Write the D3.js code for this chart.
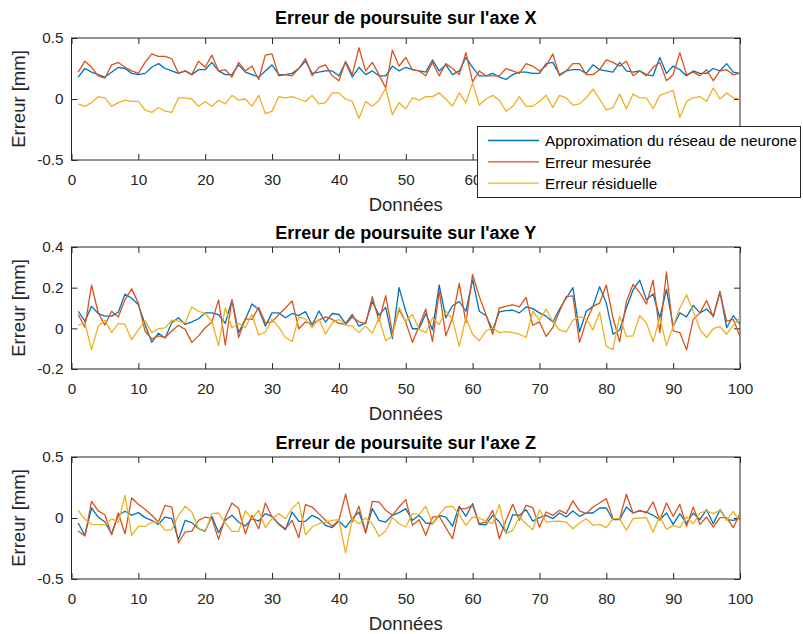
<!DOCTYPE html>
<html>
<head>
<meta charset="utf-8">
<script src="https://cdn.jsdelivr.net/npm/d3@7"></script>
<style>
    body { margin: 0; background: #ffffff; }
    svg { display: block; font-family: "Liberation Sans", Arial, Helvetica, sans-serif; }
</style>
</head>
<body>
<svg id="chart" width="803" height="634"></svg>
<script>
/*global d3*/

var seriesNames = ["Approximation du réseau de neurone", "Erreur mesurée", "Erreur résiduelle"],
    seriesColors = ["#0072bd", "#d95319", "#edb120"],
    xTicks = [0, 10, 20, 30, 40, 50, 60, 70, 80, 90, 100],
    yTicksXZ = [-0.5, 0, 0.5],
    yTicksY = [-0.2, 0, 0.2, 0.4];

//axe X, samples 1..100
var approxX = [0.18, 0.25, 0.22, 0.20, 0.18, 0.22, 0.26, 0.25, 0.21, 0.20, 0.21, 0.26, 0.29, 0.25, 0.23, 0.21, 0.23, 0.20, 0.24, 0.24,
    0.30, 0.23, 0.20, 0.20, 0.28, 0.22, 0.20, 0.18, 0.23, 0.28, 0.20, 0.20, 0.21, 0.25, 0.31, 0.21, 0.22, 0.23, 0.23, 0.19,
    0.30, 0.18, 0.26, 0.20, 0.23, 0.19, 0.19, 0.27, 0.23, 0.26, 0.24, 0.23, 0.22, 0.32, 0.23, 0.28, 0.20, 0.23, 0.34, 0.26,
    0.19, 0.19, 0.21, 0.18, 0.16, 0.20, 0.22, 0.22, 0.21, 0.21, 0.29, 0.30, 0.20, 0.23, 0.24, 0.24, 0.21, 0.28, 0.24, 0.23,
    0.22, 0.30, 0.23, 0.22, 0.23, 0.20, 0.19, 0.34, 0.21, 0.27, 0.24, 0.19, 0.23, 0.21, 0.21, 0.25, 0.23, 0.29, 0.22, 0.21];
var measX = [0.22, 0.31, 0.26, 0.19, 0.17, 0.28, 0.30, 0.26, 0.23, 0.21, 0.30, 0.37, 0.35, 0.35, 0.33, 0.21, 0.23, 0.20, 0.31, 0.26,
    0.36, 0.23, 0.24, 0.18, 0.30, 0.23, 0.27, 0.16, 0.36, 0.37, 0.19, 0.20, 0.19, 0.25, 0.33, 0.19, 0.26, 0.28, 0.19, 0.15,
    0.31, 0.20, 0.42, 0.23, 0.30, 0.20, 0.09, 0.40, 0.27, 0.34, 0.24, 0.23, 0.19, 0.30, 0.19, 0.29, 0.25, 0.20, 0.38, 0.14,
    0.23, 0.19, 0.19, 0.19, 0.25, 0.23, 0.21, 0.29, 0.27, 0.23, 0.27, 0.37, 0.19, 0.23, 0.29, 0.29, 0.20, 0.20, 0.24, 0.32,
    0.30, 0.27, 0.31, 0.19, 0.23, 0.19, 0.26, 0.30, 0.15, 0.20, 0.38, 0.20, 0.22, 0.19, 0.24, 0.15, 0.23, 0.24, 0.20, 0.21];
var residX = [-0.04, -0.06, -0.03, 0.02, 0.01, -0.06, -0.03, -0.01, -0.02, -0.02, -0.09, -0.11, -0.07, -0.10, -0.11, 0.01, 0.01, 0.00, -0.06, -0.02,
    -0.06, -0.01, -0.04, 0.03, -0.01, 0.00, -0.06, 0.03, -0.12, -0.10, 0.02, 0.01, 0.02, 0.00, -0.02, 0.03, -0.04, -0.03, 0.05, 0.05,
    0.00, -0.02, -0.16, -0.02, -0.06, -0.01, 0.09, -0.13, -0.03, -0.08, 0.01, -0.01, 0.02, 0.02, 0.05, 0.00, -0.06, 0.05, -0.03, 0.13,
    -0.05, 0.00, 0.03, -0.01, -0.10, -0.06, 0.02, -0.06, -0.06, -0.02, 0.03, -0.07, 0.03, 0.01, -0.05, -0.04, 0.01, 0.08, 0.00, -0.09,
    -0.07, 0.04, -0.08, 0.04, 0.01, 0.01, -0.08, 0.03, 0.05, 0.07, -0.15, -0.02, 0.01, 0.02, -0.02, 0.09, 0.00, 0.05, 0.01, 0.00];

//axe Y
var approxY = [0.084, 0.035, 0.108, 0.073, 0.06, 0.06, 0.079, 0.168, 0.148, 0.116, 0.02, -0.069, -0.024, -0.048, 0.027, 0.052, 0.019, 0.032, 0.047, 0.076,
    0.076, 0.068, 0.024, 0.14, -0.021, 0.044, 0.12, 0.092, 0.011, 0.076, 0.076, 0.052, 0.073, 0.063, 0.082, 0.015, 0.085, 0.031, 0.073, 0.068,
    0.023, 0.068, 0.011, 0.027, 0.132, 0.065, 0.103, -0.05, 0.20, 0.084, -0.002, -0.002, 0.073, -0.008, 0.213, 0.052, 0.111, 0.132, 0.084, 0.24,
    0.084, 0.063, -0.008, 0.081, 0.087, 0.089, 0.076, 0.105, 0.097, 0.076, 0.06, 0.031, 0.095, 0.148, 0.20, -0.018, 0.084, 0.108, 0.205, 0.124,
    -0.029, -0.008, 0.10, 0.189, 0.237, 0.14, 0.169, 0.052, 0.192, 0.011, 0.076, 0.056, 0.113, 0.076, 0.095, 0.06, 0.181, 0.003, 0.063, 0.019];
var measY = [0.068, 0.006, 0.213, 0.076, 0.016, 0.084, 0.056, 0.14, 0.194, 0.124, -0.013, -0.053, -0.037, -0.045, -0.013, 0.015, -0.005, -0.069, -0.037, 0.003,
    0.031, 0.14, -0.082, 0.14, -0.045, 0.047, 0.044, 0.103, 0.027, 0.032, 0.068, 0.10, 0.135, -0.002, 0.031, 0.023, 0.04, 0.056, 0.044, 0.024,
    0.019, 0.056, 0.032, 0.023, 0.156, 0.035, 0.161, -0.021, 0.092, 0.031, -0.069, 0.011, 0.095, -0.065, 0.184, -0.037, 0.052, 0.221, 0.027, 0.265,
    0.156, 0.068, -0.029, 0.10, 0.108, 0.116, 0.105, 0.152, 0.015, 0.032, -0.04, 0.003, 0.084, 0.156, 0.16, -0.069, 0.035, 0.108, 0.124, 0.213,
    0.052, -0.066, 0.132, 0.216, 0.176, 0.119, 0.237, -0.021, 0.277, -0.013, -0.021, -0.106, 0.044, 0.076, 0.137, 0.056, 0.177, 0.035, 0.044, -0.04];
var residY = [0.016, 0.027, -0.105, 0.011, 0.04, -0.021, 0.024, 0.019, -0.056, -0.008, 0.039, -0.021, -0.002, 0.002, 0.04, 0.035, 0.027, 0.105, 0.084, 0.073,
    0.035, -0.085, 0.10, 0.003, 0.023, 0.003, 0.068, -0.034, -0.018, 0.044, 0.006, -0.045, -0.065, 0.056, 0.047, 0.003, 0.047, -0.029, 0.027, 0.044,
    0.015, 0.011, -0.021, 0.011, -0.024, 0.052, -0.061, -0.037, 0.103, 0.035, 0.068, -0.005, -0.021, 0.052, 0.019, 0.084, 0.044, -0.089, 0.052, -0.029,
    -0.061, -0.013, 0.003, -0.021, -0.016, -0.021, -0.029, -0.045, 0.084, 0.04, 0.095, 0.031, -0.008, -0.018, 0.04, 0.056, 0.047, -0.008, 0.079, -0.089,
    -0.105, 0.06, -0.04, -0.037, 0.063, 0.027, -0.066, 0.052, -0.085, 0.011, 0.10, 0.165, 0.084, -0.005, -0.045, -0.002, 0.008, -0.029, 0.015, 0.052];

//axe Z
var approxZ = [-0.041, -0.142, 0.082, 0.008, -0.033, -0.129, 0.022, 0.055, 0.022, 0.044, 0.003, -0.019, -0.052, 0.008, -0.005, -0.175, -0.019, -0.038, -0.088, -0.107,
    0.014, -0.12, -0.019, 0.022, -0.033, -0.066, -0.005, -0.025, 0.036, 0.014, -0.052, -0.096, 0.049, -0.027, -0.027, 0.022, -0.005, -0.06, -0.079, -0.025,
    -0.079, -0.005, 0.049, -0.115, 0.077, -0.019, -0.033, 0.022, 0.044, 0.077, -0.019, 0.022, -0.041, -0.047, 0.022, 0.008, -0.066, 0.096, 0.014, 0.118,
    -0.055, -0.055, 0.022, -0.033, -0.12, 0.027, 0.022, 0.068, -0.025, 0.003, 0.022, -0.005, 0.041, 0.008, 0.058, 0.014, 0.041, 0.041, 0.082, 0.082,
    -0.014, -0.014, 0.09, 0.041, 0.058, 0.049, 0.022, -0.014, 0.041, -0.052, 0.036, -0.041, 0.041, -0.014, 0.068, -0.047, 0.068, -0.014, -0.019, -0.005];
var measZ = [-0.107, -0.148, 0.137, 0.058, 0.027, -0.137, 0.041, -0.129, 0.164, 0.112, 0.071, 0.022, -0.033, 0.104, 0.09, -0.203, -0.115, -0.107, -0.019, 0.008,
    -0.005, -0.175, 0.003, 0.123, 0.077, -0.129, 0.022, -0.088, 0.123, 0.008, -0.047, -0.088, -0.019, -0.162, 0.11, 0.09, 0.036, -0.019, -0.068, -0.019,
    0.195, -0.033, 0.096, -0.123, 0.137, 0.132, 0.063, 0.022, 0.09, 0.151, -0.06, -0.014, -0.142, 0.008, 0.014, -0.079, -0.17, 0.077, 0.077, 0.104,
    -0.047, -0.033, 0.063, -0.17, -0.019, 0.112, -0.019, 0.104, 0.085, -0.074, 0.049, 0.022, 0.063, 0.036, 0.14, 0.058, 0.036, 0.09, 0.123, 0.159,
    -0.005, -0.005, 0.195, 0.041, 0.063, 0.041, 0.132, -0.019, 0.123, 0.014, 0.112, -0.068, 0.09, -0.052, 0.008, -0.074, 0.003, 0.003, -0.079, 0.036];
var residZ = [0.063, -0.011, -0.052, -0.055, -0.055, -0.005, -0.038, 0.186, -0.142, -0.068, -0.068, -0.033, -0.033, -0.101, -0.096, 0.022, 0.096, 0.049, -0.088, -0.115,
    0.036, 0.041, -0.041, -0.11, -0.11, 0.058, -0.005, 0.063, -0.079, -0.005, 0.036, -0.005, 0.077, 0.132, -0.137, -0.074, -0.047, -0.033, -0.019, -0.014,
    -0.285, -0.005, -0.047, 0.0, -0.047, -0.151, -0.107, 0.003, -0.047, -0.074, 0.036, 0.03, 0.096, -0.047, 0.03, 0.09, 0.096, 0.027, -0.06, 0.008,
    0.0, -0.027, -0.047, 0.112, -0.129, -0.101, 0.008, -0.047, -0.096, 0.068, -0.033, -0.027, -0.025, -0.033, -0.088, -0.041, -0.005, -0.06, -0.052, -0.079,
    -0.005, -0.005, -0.101, -0.005, 0.0, 0.003, -0.115, 0.014, -0.093, -0.06, -0.079, 0.008, -0.047, 0.041, 0.058, 0.036, 0.063, -0.019, 0.055, -0.033];

var svg = d3.select("#chart"),
    axisColor = "#262626",
    plotLeft = 71.5,
    plotWidth = 668.5,
    plotHeight = 122,
    tickFont = "15.3px",
    labelFont = "18.5px";

var x = d3.scaleLinear().domain([0, 100]).range([plotLeft, plotLeft + plotWidth]);

function drawSubplot(top, yDomain, yTicks, title, titleY, series) {
    "use strict";
    var y = d3.scaleLinear().domain(yDomain).range([top + plotHeight, top]),
        g = svg.append("g"),
        clipId = "clip" + Math.round(top),
        line = d3.line()
            .x(function (d, i) { return x(i + 1); })
            .y(function (d) { return y(d); });

    g.append("clipPath").attr("id", clipId)
        .append("rect")
        .attr("x", plotLeft).attr("y", top)
        .attr("width", plotWidth).attr("height", plotHeight);

    //ticks pointing inward on all four sides, like matlab's box
    var bottom = g.append("g")
        .attr("transform", "translate(0," + (top + plotHeight) + ")")
        .call(d3.axisBottom(x).tickValues(xTicks).tickSizeInner(-6).tickSizeOuter(0).tickPadding(14));
    var topAx = g.append("g")
        .attr("transform", "translate(0," + top + ")")
        .call(d3.axisTop(x).tickValues(xTicks).tickSizeInner(-6).tickSizeOuter(0).tickFormat(""));
    var left = g.append("g")
        .attr("transform", "translate(" + plotLeft + ",0)")
        .call(d3.axisLeft(y).tickValues(yTicks).tickSizeInner(-6).tickSizeOuter(0).tickPadding(8)
            .tickFormat(function (d) { return String(d); }));
    var right = g.append("g")
        .attr("transform", "translate(" + (plotLeft + plotWidth) + ",0)")
        .call(d3.axisRight(y).tickValues(yTicks).tickSizeInner(-6).tickSizeOuter(0).tickFormat(""));

    [bottom, topAx, left, right].forEach(function (a) {
        a.select(".domain").remove();
        a.selectAll(".tick line").attr("stroke", axisColor).attr("stroke-width", 1);
        a.selectAll(".tick text")
            .attr("fill", axisColor)
            .style("font-size", tickFont)
            .style("font-family", "\"Liberation Sans\", Arial, sans-serif");
    });

    g.append("rect")
        .attr("x", plotLeft).attr("y", top)
        .attr("width", plotWidth).attr("height", plotHeight)
        .attr("fill", "none")
        .attr("stroke", axisColor)
        .attr("stroke-width", 1);

    g.append("g").attr("clip-path", "url(#" + clipId + ")")
        .selectAll("path.serie")
        .data(series)
        .enter().append("path")
            .attr("class", "serie")
            .attr("fill", "none")
            .attr("stroke", function (d, i) { return seriesColors[i]; })
            .attr("stroke-width", 1.3)
            .attr("stroke-linejoin", "round")
            .attr("d", line);

    g.append("text")
        .attr("x", plotLeft + plotWidth / 2)
        .attr("y", titleY)
        .attr("text-anchor", "middle")
        .attr("dy", "0.35em")
        .attr("fill", "#000000")
        .style("font-size", "18px")
        .style("font-weight", "bold")
        .text(title);

    g.append("text")
        .attr("x", plotLeft + plotWidth / 2)
        .attr("y", top + plotHeight + 50.5)
        .attr("text-anchor", "middle")
        .attr("fill", axisColor)
        .style("font-size", labelFont)
        .text("Données");

    g.append("text")
        .attr("transform", "translate(25," + (top + plotHeight / 2) + ") rotate(-90)")
        .attr("text-anchor", "middle")
        .attr("fill", axisColor)
        .style("font-size", labelFont)
        .text("Erreur [mm]");
}

function drawLegend(lx, ly, w, h) {
    "use strict";
    var lg = svg.append("g");
    lg.append("rect")
        .attr("x", lx).attr("y", ly)
        .attr("width", w).attr("height", h)
        .attr("fill", "#ffffff")
        .attr("stroke", axisColor)
        .attr("stroke-width", 1);
    var item = lg.selectAll("g.item")
        .data(seriesNames)
        .enter().append("g")
            .attr("class", "item")
            .attr("transform", function (d, i) { return "translate(" + lx + "," + (ly + 14 + i * 21.3) + ")"; });
    item.append("line")
        .attr("x1", 10.5).attr("x2", 61.5)
        .attr("stroke", function (d, i) { return seriesColors[i]; })
        .attr("stroke-width", 1.3);
    item.append("text")
        .attr("x", 67.5)
        .attr("dy", "0.38em")
        .attr("fill", "#000000")
        .style("font-size", tickFont)
        .text(function (d) { return d; });
}

drawSubplot(38, [-0.5, 0.5], yTicksXZ, "Erreur de poursuite sur l'axe X", 18, [approxX, measX, residX]);
drawSubplot(247, [-0.2, 0.4], yTicksY, "Erreur de poursuite sur l'axe Y", 233, [approxY, measY, residY]);
drawSubplot(457, [-0.5, 0.5], yTicksXZ, "Erreur de poursuite sur l'axe Z", 443, [approxZ, measZ, residZ]);
drawLegend(477.5, 126.5, 323, 71);
</script>
</body>
</html>
